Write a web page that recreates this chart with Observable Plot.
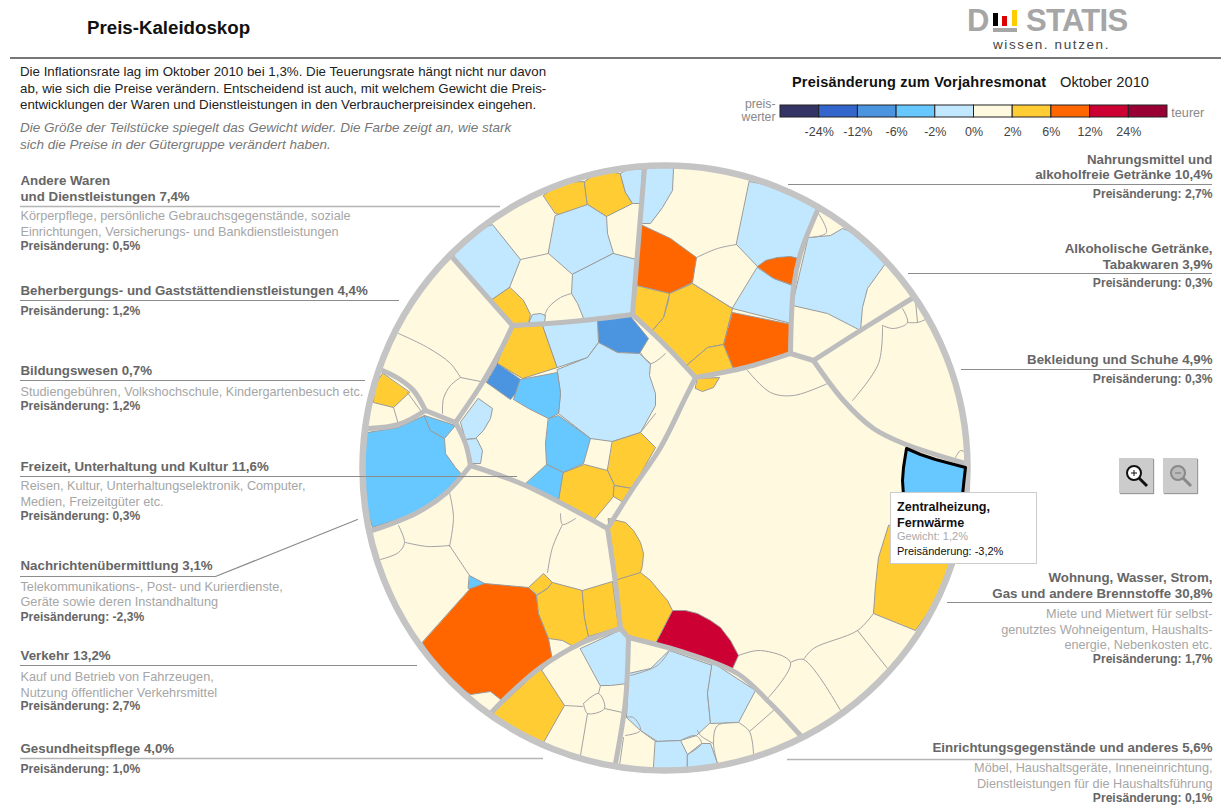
<!DOCTYPE html>
<html lang="de">
<head>
<meta charset="utf-8">
<title>Preis-Kaleidoskop</title>
<script src="https://cdn.jsdelivr.net/npm/d3@7"></script>
<script src="https://cdn.jsdelivr.net/npm/@observablehq/plot@0.6"></script>
<style>
html,body{margin:0;padding:0;background:#fff}
#page{position:relative;width:1227px;height:805px;overflow:hidden;font-family:"Liberation Sans",Arial,sans-serif}
#page svg{display:block}
#chart{position:absolute;left:0;top:0}
#legend{position:absolute;left:720px;top:92px}
.abs{position:absolute;white-space:nowrap}
#title{left:87px;top:17px;font-size:18.7px;font-weight:bold;color:#111}
#rule{left:10px;top:57px;width:1211px;height:2px;background:#777}
#intro{left:20px;top:64px;font-size:13.3px;line-height:16.5px;color:#222}
#hint{left:20px;top:120px;font-size:13.5px;line-height:16.5px;color:#777;font-style:italic}
#ltitle{left:792px;top:74px;font-size:14.5px;font-weight:bold;color:#111;letter-spacing:.2px}
#lmonth{left:1060px;top:74px;font-size:14.7px;color:#222}
#ws{left:993px;top:37px;font-size:13.5px;letter-spacing:1.6px;color:#444}
#destatis{left:967px;top:3px;font-size:31px;font-weight:bold;color:#a6a6a6}
#statis{left:1026px;top:3px;font-size:31px;font-weight:bold;color:#a6a6a6;letter-spacing:-.7px}
.bar{position:absolute}
.btn{position:absolute;top:458px;width:34px;height:35px;background:#ccc;box-shadow:1px 1px 1px #999}
#tip{position:absolute;left:890px;top:492px;width:145px;height:70px;background:#fff;border:1px solid #ccc;box-sizing:content-box}
#tip b{position:absolute;left:6px;top:7px;font-size:12.6px;line-height:15.5px;color:#111;white-space:nowrap}
#tip span{position:absolute;left:6px;font-size:11px;white-space:nowrap}
</style>
</head>
<body>
<div id="page">
  <div id="chart"></div>
  <div class="abs" id="title">Preis-Kaleidoskop</div>
  <div class="abs" id="rule"></div>
  <div class="abs" id="intro">Die Inflationsrate lag im Oktober 2010 bei 1,3%. Die Teuerungsrate hängt nicht nur davon<br>ab, wie sich die Preise verändern. Entscheidend ist auch, mit welchem Gewicht die Preis-<br>entwicklungen der Waren und Dienstleistungen in den Verbraucherpreisindex eingehen.</div>
  <div class="abs" id="hint">Die Größe der Teilstücke spiegelt das Gewicht wider. Die Farbe zeigt an, wie stark<br>sich die Preise in der Gütergruppe verändert haben.</div>
  <div class="abs" id="ltitle">Preisänderung zum Vorjahresmonat</div>
  <div class="abs" id="lmonth">Oktober 2010</div>
  <div id="legend"></div>
  <div class="abs" id="destatis">D</div>
  <div class="bar" style="left:993px;top:13px;width:5px;height:13px;background:#000"></div>
  <div class="bar" style="left:1002px;top:16px;width:5px;height:10px;background:#d00"></div>
  <div class="bar" style="left:1012px;top:10px;width:5px;height:16px;background:#fc0"></div>
  <div class="bar" style="left:993px;top:28px;width:24px;height:4px;background:#a6a6a6"></div>
  <div class="abs" id="statis">STATIS</div>
  <div class="abs" id="ws">wissen. nutzen.</div>
  <div class="btn" style="left:1119px"><svg width="34" height="35"><circle cx="15" cy="15" r="7" fill="#fff" stroke="#111" stroke-width="2"/><path d="M12 15h6M15 12v6" stroke="#111"/><path d="M20 20l8 8" stroke="#111" stroke-width="3"/></svg></div>
  <div class="btn" style="left:1163px"><svg width="34" height="35"><circle cx="15" cy="15" r="7" fill="#bbb" stroke="#888" stroke-width="2"/><path d="M12 15h6" stroke="#777"/><path d="M20 20l8 8" stroke="#888" stroke-width="3"/></svg></div>
  <div id="tip"><b>Zentralheizung,<br>Fernwärme</b><span style="top:37px;color:#aaa">Gewicht: 1,2%</span><span style="top:52px;color:#111">Preisänderung: -3,2%</span></div>
</div>
<script>
// ---- colour classes
const thresholds = [-24, -12, -6, -2, 0, 2, 6, 12, 24];
const thresholdLabels = ["-24%", "-12%", "-6%", "-2%", "0%", "2%", "6%", "12%", "24%"];
const binColors = ["#333366", "#3366cc", "#4a94e0", "#66c8ff", "#c2e8ff", "#fff9e0", "#ffcc33", "#ff6600", "#cc0033", "#990033"];
const binSamples = [-30, -18, -9, -4, -1, 1, 4, 9, 18, 30];
const color = {type: "threshold", domain: thresholds, range: binColors};

// ---- circle (in picture units)
const circle = [{x: 664.5, y: 467.5}];

// ---- coloured cells: [price change, outline]
const cells = [
  // Andere Waren und Dienstleistungen
  [-1, [[452,257],[470,232],[492,224],[520,259],[509,287],[490,300]]],
  [4, [[543,195],[560,182],[584,181],[587,204],[563,215],[555,213]]],
  [4, [[584,181],[600,170],[620,173],[625,192],[632,203],[606,216],[587,204]]],
  [-1, [[620,173],[630,167],[642,169],[640,203],[632,203],[625,192]]],
  [-1, [[555,215],[587,204],[606,216],[607,233],[613,253],[572,274],[548,253]]],
  [-1, [[613,253],[636,259],[631,314],[584,320],[577,303],[571,293],[572,274]]],
  [4, [[509,287],[490,300],[512,325],[528,323],[530,314],[523,300]]],
  [-1, [[528,323],[532,314],[540,313],[545,315],[544,322]]],
  // Freizeit, Unterhaltung und Kultur
  [4, [[511,327],[542,324],[557,367],[522,378],[497,363]]],
  [-8, [[597,319],[630,316],[648,338],[639,353],[617,352],[598,342]]],
  [-1, [[542,324],[597,319],[598,342],[587,357],[557,367]]],
  [-1, [[557,369],[587,357],[598,342],[617,352],[639,353],[650,363],[649,375],[655,393],[655,405],[640,432],[612,441],[590,438],[558,413],[560,393]]],
  [-8, [[497,363],[520,379],[515,393],[510,399],[486,382]]],
  [-4, [[520,379],[557,372],[560,393],[558,413],[548,418],[528,408],[513,399],[515,393]]],
  [-1, [[478,398],[492,408],[490,418],[483,430],[475,438],[465,439],[460,422]]],
  [-1, [[465,439],[476,438],[482,450],[480,463],[472,463]]],
  [-4, [[548,418],[558,415],[590,438],[583,463],[563,472],[546,464],[545,443]]],
  [4, [[612,441],[640,432],[655,447],[632,488],[614,485],[607,470]]],
  [-4, [[523,485],[546,464],[563,472],[558,502]]],
  [4, [[563,472],[584,464],[607,470],[614,485],[613,496],[593,520],[558,502]]],
  [4, [[614,485],[632,488],[623,502],[613,496]]],
  // Bildungswesen
  [4, [[382,373],[374,385],[373,402],[393,407],[409,392]]],
  // Nachrichtenübermittlung
  [-4, [[367,432],[398,427],[424,415],[430,430],[444,438],[445,453],[455,467],[462,475],[448,493],[415,513],[372,527],[358,480]]],
  [-4, [[424,415],[455,425],[444,438],[430,430]]],
  // Verkehr
  [-4, [[469,575],[484,583],[477,588],[468,588]]],
  [9, [[470,588],[484,583],[528,587],[536,595],[538,613],[548,638],[552,660],[504,702],[490,691],[470,694],[440,675],[422,642]]],
  [4, [[528,587],[543,573],[552,582],[547,588],[537,594]]],
  [4, [[552,582],[582,590],[584,617],[588,636],[573,646],[562,640],[548,638],[538,613],[536,595],[547,588]]],
  [4, [[582,590],[612,581],[618,627],[588,636],[584,617]]],
  // Gesundheitspflege
  [-1, [[580,648],[619,630],[627,637],[627,683],[610,685],[600,685]]],
  [4, [[540,668],[564,705],[543,742],[515,735],[492,713]]],
  // Einrichtungsgegenstände
  [-1, [[669,650],[712,665],[707,693],[710,722],[696,735],[680,740],[657,741],[640,730],[626,717],[628,673],[650,668]]],
  [-1, [[712,662],[755,690],[738,722],[710,723],[707,693]]],
  [-1, [[655,741],[680,740],[687,754],[687,772],[653,772]]],
  [-1, [[687,754],[701,743],[710,743],[717,763],[700,772],[687,772]]],
  // Wohnung, Wasser, Strom, Gas
  [18, [[672,610],[685,610],[697,613],[710,620],[720,627],[730,640],[738,655],[732,668],[710,660],[655,643]]],
  [4, [[640,572],[650,580],[660,592],[667,600],[672,610],[655,643],[622,633],[614,577]]],
  [4, [[608,518],[625,522],[633,530],[640,542],[643,553],[642,565],[640,572],[614,580]]],
  [4, [[888,525],[878,557],[875,585],[873,613],[915,630],[950,580],[960,530]]],
  // Nahrungsmittel und alkoholfreie Getränke
  [-1, [[645,169],[660,163],[673,168],[672,190],[662,207],[650,223],[641,223]]],
  [-1, [[749,181],[785,188],[817,208],[798,258],[777,257],[757,266],[736,244]]],
  [9, [[640,224],[670,238],[696,257],[692,282],[669,293],[636,285]]],
  [9, [[757,266],[765,260],[777,257],[790,256],[798,258],[793,285],[773,278]]],
  [-1, [[757,267],[773,278],[792,285],[791,323],[732,308]]],
  [9, [[732,312],[791,324],[791,352],[733,369],[723,344]]],
  [4, [[669,293],[692,283],[732,308],[723,344],[707,347],[686,365],[651,331],[663,317],[668,300]]],
  [4, [[636,285],[669,293],[663,317],[651,331],[633,313]]],
  [4, [[686,365],[707,347],[723,344],[733,369],[696,376]]],
  [4, [[695,388],[702,391],[713,387],[719,377],[697,378]]],
  // Alkoholische Getränke, Tabakwaren
  [-1, [[808,237],[830,235],[842,228],[868,238],[885,263],[867,288],[862,307],[860,330],[827,313],[792,305]]]
];

// ---- the highlighted cell: Zentralheizung, Fernwärme
const highlighted = [-3.2, [[906,448],[920,454],[935,459],[950,463],[965,467],[963.5,480],[962,495],[960,515],[930,525],[905,510],[903,495],[902,480],[903,467]]];

// ---- thin boundaries between cells of the same price class
const thinEdges = [
  [[520,259],[548,253]],
  [[571,293],[560,297],[548,307],[544,315]],
  [[398,333],[427,347],[450,363],[460,377]],
  [[460,377],[480,381]],
  [[460,377],[450,385],[443,398],[442,413]],
  [[393,407],[398,424]],
  [[407,392],[420,410]],
  [[449,492],[453,517],[449,546]],
  [[405,542],[427,546],[449,545]],
  [[398,525],[404,542],[398,552],[380,559]],
  [[449,545],[469,575]],
  [[560,513],[562,524],[575,518]],
  [[562,524],[552,547],[547,572]],
  [[564,705],[582,706]],
  [[583,703],[598,693],[604,708],[587,713],[583,703]],
  [[600,685],[598,693]],
  [[604,708],[622,712]],
  [[587,713],[580,755]],
  [[669,650],[657,665],[630,675]],
  [[624,717],[633,717],[640,730],[625,735]],
  [[640,730],[655,741]],
  [[623,737],[619,765]],
  [[738,722],[749,731],[753,753]],
  [[749,731],[773,710]],
  [[717,763],[713,743],[717,725],[738,722]],
  [[697,730],[700,735],[713,743]],
  [[680,740],[695,735],[701,743],[687,754]],
  [[738,655],[760,650],[790,662],[768,697]],
  [[790,662],[803,659],[840,710]],
  [[803,659],[813,648],[857,630],[873,613]],
  [[857,630],[887,668]],
  [[882,325],[878,363],[852,400]],
  [[882,325],[893,328],[907,322],[902,308]],
  [[907,322],[917,322],[925,319]],
  [[917,322],[915,300]],
  [[747,370],[770,392],[793,395],[827,383]],
  [[818,213],[826,232],[812,237]],
  [[885,263],[889,268]],
  [[696,257],[717,248],[736,244]],
  [[692,283],[732,308]],
  [[640,352],[650,363],[665,353]],
  [[640,432],[655,413]],
  [[955,457],[960,450],[965,452]]
];

// ---- thick boundaries between the twelve groups
const groupEdges = [
  [[452,257],[512,325]],
  [[512,325],[572,321],[632,314]],
  [[644,168],[638,240],[632,314]],
  [[512,325],[500,350],[482,382],[455,422]],
  [[632,314],[665,345],[695,377]],
  [[695,377],[745,367],[790,353]],
  [[790,353],[813,360]],
  [[790,353],[793,287],[800,253],[817,210]],
  [[813,360],[863,328],[913,297]],
  [[813,360],[843,400],[873,428],[903,443],[965,463]],
  [[695,377],[685,397],[660,447],[633,487],[607,528]],
  [[607,528],[525,485],[470,465]],
  [[470,465],[465,443],[455,422]],
  [[455,422],[425,410]],
  [[425,410],[413,390],[398,378],[382,370]],
  [[425,410],[398,424],[368,428]],
  [[470,465],[445,493],[415,513],[372,530]],
  [[607,528],[615,583],[620,628]],
  [[620,628],[580,643],[540,667],[513,690],[490,713]],
  [[620,628],[628,637]],
  [[628,637],[625,700],[615,763]],
  [[628,637],[687,653],[737,673],[770,703],[800,735]]
];

// ---- category labels
const catNames = [
  "Andere Waren\nund Dienstleistungen 7,4%",
  "Beherbergungs- und Gaststättendienstleistungen 4,4%",
  "Bildungswesen 0,7%",
  "Freizeit, Unterhaltung und Kultur 11,6%",
  "Nachrichtenübermittlung 3,1%",
  "Verkehr 13,2%",
  "Gesundheitspflege 4,0%",
  "Nahrungsmittel und\nalkoholfreie Getränke 10,4%",
  "Alkoholische Getränke,\nTabakwaren 3,9%",
  "Bekleidung und Schuhe 4,9%",
  "Wohnung, Wasser, Strom,\nGas und andere Brennstoffe 30,8%",
  "Einrichtungsgegenstände und anderes 5,6%"
];
const catDescriptions = [
  "Körperpflege, persönliche Gebrauchsgegenstände, soziale\nEinrichtungen, Versicherungs- und Bankdienstleistungen",
  "",
  "Studiengebühren, Volkshochschule, Kindergartenbesuch etc.",
  "Reisen, Kultur, Unterhaltungselektronik, Computer,\nMedien, Freizeitgüter etc.",
  "Telekommunikations-, Post- und Kurierdienste,\nGeräte sowie deren Instandhaltung",
  "Kauf und Betrieb von Fahrzeugen,\nNutzung öffentlicher Verkehrsmittel",
  "",
  "",
  "",
  "",
  "Miete und Mietwert für selbst-\ngenutztes Wohneigentum, Haushalts-\nenergie, Nebenkosten etc.",
  "Möbel, Haushaltsgeräte, Inneneinrichtung,\nDienstleistungen für die Haushaltsführung"
];
const catChanges = ["0,5%", "1,2%", "1,2%", "0,3%", "-2,3%", "2,7%", "1,0%", "2,7%", "0,3%", "0,3%", "1,7%", "0,1%"];

// ---- label layout: name y, rule y, description y, change y, rule end (toward the circle)
const layout = [
  {side: "L", yName: 187.5, yRule: 206, yDesc: 222.5, yChange: 246, end: 500, light: true},
  {side: "L", yName: 290, yRule: 300, yDesc: 0, yChange: 311, end: 399},
  {side: "L", yName: 370, yRule: 380, yDesc: 390, yChange: 406, end: 365},
  {side: "L", yName: 466, yRule: 476, yDesc: 492.5, yChange: 516, end: 517},
  {side: "L", yName: 565, yRule: 576, yDesc: 593, yChange: 617, end: 215},
  {side: "L", yName: 655, yRule: 665, yDesc: 683.5, yChange: 706, end: 417},
  {side: "L", yName: 748, yRule: 758, yDesc: 0, yChange: 769, end: 543, light: true},
  {side: "R", yName: 166, yRule: 184, yDesc: 0, yChange: 194, end: 788},
  {side: "R", yName: 255.5, yRule: 273, yDesc: 0, yChange: 283, end: 908},
  {side: "R", yName: 359, yRule: 369, yDesc: 0, yChange: 379, end: 961},
  {side: "R", yName: 584.5, yRule: 602, yDesc: 628, yChange: 659, end: 947},
  {side: "R", yName: 747, yRule: 759, yDesc: 774.5, yChange: 798, end: 787, light: true}
];
const labels = layout.map((d, i) => ({
  ...d,
  name: catNames[i],
  desc: catDescriptions[i],
  change: "Preisänderung: " + catChanges[i],
  tx: d.side === "L" ? 20 : 1212,
  anchor: d.side === "L" ? "start" : "end"
}));
const leftLabels = labels.filter(d => d.side === "L");
const rightLabels = labels.filter(d => d.side === "R");
const leader = [[215, 576], [357, 519]];

const toPoints = list => list.flatMap((poly, id) => poly.map(([x, y]) => ({x, y, id})));
const cellPoints = cells.flatMap(([change, poly], id) => poly.map(([x, y]) => ({x, y, id, change})));
const thinPoints = toPoints(thinEdges);
const groupPoints = toPoints(groupEdges);
const highlightPoints = highlighted[1].map(([x, y]) => ({x, y, change: highlighted[0]}));

function textMarks(list) {
  const anchor = list[0].anchor;
  const common = {x: "tx", textAnchor: anchor, fontFamily: "Liberation Sans, Arial, sans-serif"};
  return [
    Plot.text(list, {...common, y: "yName", text: "name", fontSize: 13.3, fontWeight: "bold", fill: "#666", lineHeight: 1.17}),
    Plot.text(list.filter(d => d.desc), {...common, y: "yDesc", text: "desc", fontSize: 12.7, fill: "#a6a6a6", lineHeight: 1.24}),
    Plot.text(list, {...common, y: "yChange", text: "change", fontSize: 12.1, fontWeight: "bold", fill: "#666"})
  ];
}

const chart = Plot.plot({
  width: 1227,
  height: 805,
  margin: 0,
  style: {background: "transparent"},
  x: {domain: [0, 1227], range: [0, 1227], axis: null},
  y: {domain: [0, 805], range: [0, 805], axis: null},
  color,
  marks: [
    // disc
    Plot.dot(circle, {x: "x", y: "y", r: 302, fill: "#fff9e0", stroke: "none"}),
    // cells
    Plot.line(cellPoints, {x: "x", y: "y", z: "id", fill: "change", stroke: "#9a9a9a", strokeWidth: 1, curve: "linear-closed"}),
    // thin edges
    Plot.line(thinPoints, {x: "x", y: "y", z: "id", stroke: "#a3a3a3", strokeWidth: 1, curve: "catmull-rom"}),
    // group edges
    Plot.line(groupPoints, {x: "x", y: "y", z: "id", stroke: "#bdbdbd", strokeWidth: 5, curve: "catmull-rom", strokeLinecap: "round"}),
    // keep the cells inside the circle
    Plot.dot(circle, {x: "x", y: "y", r: 332, fill: "none", stroke: "#fff", strokeWidth: 56}),
    // ring
    Plot.dot(circle, {x: "x", y: "y", r: 302.5, fill: "none", stroke: "#c4c4c4", strokeWidth: 6.5}),
    // highlighted cell
    Plot.line(highlightPoints, {x: "x", y: "y", fill: "change", stroke: "#000", strokeWidth: 3, curve: "linear-closed"}),
    // leaders
    Plot.ruleY(leftLabels, {y: "yRule", x1: "tx", x2: "end", stroke: d => d.light ? "#b5b5b5" : "#8c8c8c", strokeWidth: d => d.light ? 1.6 : 1.2}),
    Plot.ruleY(rightLabels, {y: "yRule", x1: "end", x2: "tx", stroke: d => d.light ? "#b5b5b5" : "#8c8c8c", strokeWidth: d => d.light ? 1.6 : 1.2}),
    Plot.line(leader, {x: d => d[0], y: d => d[1], stroke: "#8c8c8c", strokeWidth: 1.2}),
    ...textMarks(leftLabels),
    ...textMarks(rightLabels)
  ]
});
document.getElementById("chart").append(chart);

// ---- colour legend
const legendBins = binColors.map((c, i) => ({i, sample: binSamples[i]}));
const legendTicks = thresholdLabels.map((label, i) => ({label, i: i + 1}));
const legend = Plot.plot({
  width: 507,
  height: 50,
  margin: 0,
  style: {background: "transparent"},
  x: {domain: [-1.5504, 11.5504], range: [0, 507], axis: null},
  y: {domain: [0, 50], range: [0, 50], axis: null},
  color,
  marks: [
    Plot.rect(legendBins, {x1: "i", x2: d => d.i + 1, y1: 13, y2: 25, fill: "sample", stroke: "#222", strokeWidth: 1}),
    Plot.text(legendTicks, {x: "i", y: 39, text: "label", fontSize: 12.5, fill: "#444", fontFamily: "Liberation Sans, Arial, sans-serif"}),
    Plot.text(["preis-\nwerter"], {x: -0.13, y: 18, text: d => d, textAnchor: "end", fontSize: 12.2, fill: "#888", lineHeight: 1, fontFamily: "Liberation Sans, Arial, sans-serif"}),
    Plot.text(["teurer"], {x: 10.1, y: 20, text: d => d, textAnchor: "start", fontSize: 12.6, fill: "#888", fontFamily: "Liberation Sans, Arial, sans-serif"})
  ]
});
document.getElementById("legend").append(legend);
</script>
</body>
</html>
